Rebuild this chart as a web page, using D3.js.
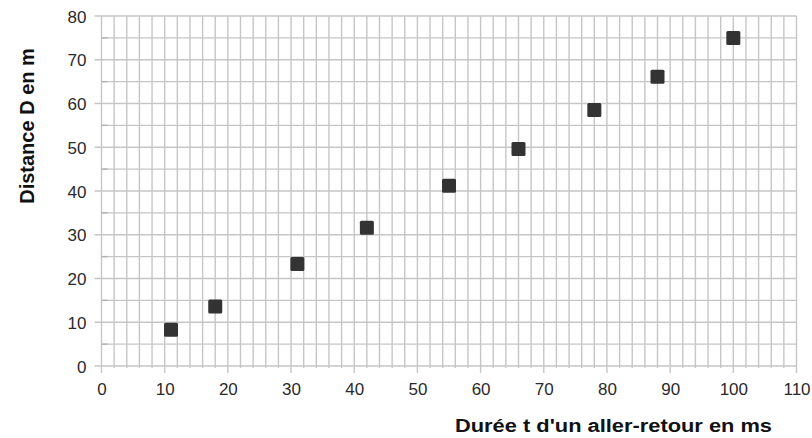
<!DOCTYPE html>
<html lang="fr">
<head>
<meta charset="UTF-8">
<title>Distance en fonction de la durée</title>
<style>
  body { margin: 0; background: #fff; }
  text { font-family: "Liberation Sans", Arial, sans-serif; }
</style>
</head>
<body>
<div id="chart"></div>
<script src="https://d3js.org/d3.v7.min.js"></script>
<script>
    // measured values
    var durees = [11, 18, 31, 42, 55, 66, 78, 88, 100];
    var distances = [8.3, 13.6, 23.3, 31.6, 41.2, 49.6, 58.5, 66.1, 75];
    var xTicks = [0, 10, 20, 30, 40, 50, 60, 70, 80, 90, 100, 110];
    var yTicks = [0, 10, 20, 30, 40, 50, 60, 70, 80];

    let vp = {width: 812, height: 438};
    let plot = {left: 101.5, right: 796.5, top: 16, bottom: 366};

    var svg = d3.select("#chart").append("svg")
        .attr("width", vp.width)
        .attr("height", vp.height);

    var x = d3.scaleLinear().domain([0, 110]).range([plot.left, plot.right]);
    var y = d3.scaleLinear().domain([0, 80]).range([plot.bottom, plot.top]);

    var gridColor = "#c6c6c6";

    // vertical grid every 2
    svg.append("g").selectAll("line")
        .data(d3.range(0, 111, 2)).enter()
        .append("line")
        .attr("x1", d => x(d)).attr("x2", d => x(d))
        .attr("y1", plot.top).attr("y2", d => d % 10 === 0 ? plot.bottom + 7 : plot.bottom + 2)
        .attr("stroke", gridColor).attr("stroke-width", 1.4);

    // horizontal every 5
    svg.append("g").selectAll("line")
        .data(d3.range(0, 81, 5)).enter()
        .append("line")
        .attr("x1", d => d % 10 === 0 ? plot.left - 7 : plot.left + 1)
        .attr("x2", plot.right)
        .attr("y1", d => y(d)).attr("y2", d => y(d))
        .attr("stroke", gridColor).attr("stroke-width", 1.4);

    // small stubs on minor y lines
    svg.append("g").selectAll("line")
        .data(d3.range(5, 80, 10)).enter()
        .append("line")
        .attr("x1", plot.left).attr("x2", plot.left + 6)
        .attr("y1", d => y(d)).attr("y2", d => y(d))
        .attr("stroke", "#b0b0b0").attr("stroke-width", 1.4);

    // axes (labels only)
    var xAxis = svg.append("g")
        .attr("transform", "translate(0," + plot.bottom + ")")
        .call(d3.axisBottom(x).tickValues(xTicks).tickSize(0).tickPadding(17));
    var yAxis = svg.append("g")
        .attr("transform", "translate(" + plot.left + ",0)")
        .call(d3.axisLeft(y).tickValues(yTicks).tickSize(0).tickPadding(15));
    [xAxis, yAxis].forEach(function (a) {
        a.select(".domain").remove();
        a.selectAll("text").attr("font-size", 17).attr("fill", "#2a2a2a")
            .attr("font-family", "'Liberation Sans', Arial, sans-serif");
    });
    yAxis.selectAll("text").attr("dy", "0.36em");

    // squares
    var s = 14;
    svg.append("g").selectAll("rect")
        .data(durees.map((d, i) => ({x: d, y: distances[i]}))).enter()
        .append("rect")
        .attr("x", d => x(d.x) - s / 2)
        .attr("y", d => y(d.y) - s / 2)
        .attr("width", s).attr("height", s)
        .attr("rx", 1.5)
        .attr("fill", "#333333");

    // axis titles
    svg.append("text")
        .attr("x", 455).attr("y", 432)
        .attr("textLength", 317).attr("lengthAdjust", "spacingAndGlyphs")
        .attr("font-size", 18).attr("font-weight", "bold").attr("fill", "#111")
        .text("Durée t d'un aller-retour en ms");

    svg.append("text")
        .attr("transform", "translate(34,126) rotate(-90)")
        .attr("text-anchor", "middle")
        .attr("font-size", 20).attr("font-weight", "bold").attr("fill", "#111")
        .text("Distance D en m");
</script>
</body>
</html>
